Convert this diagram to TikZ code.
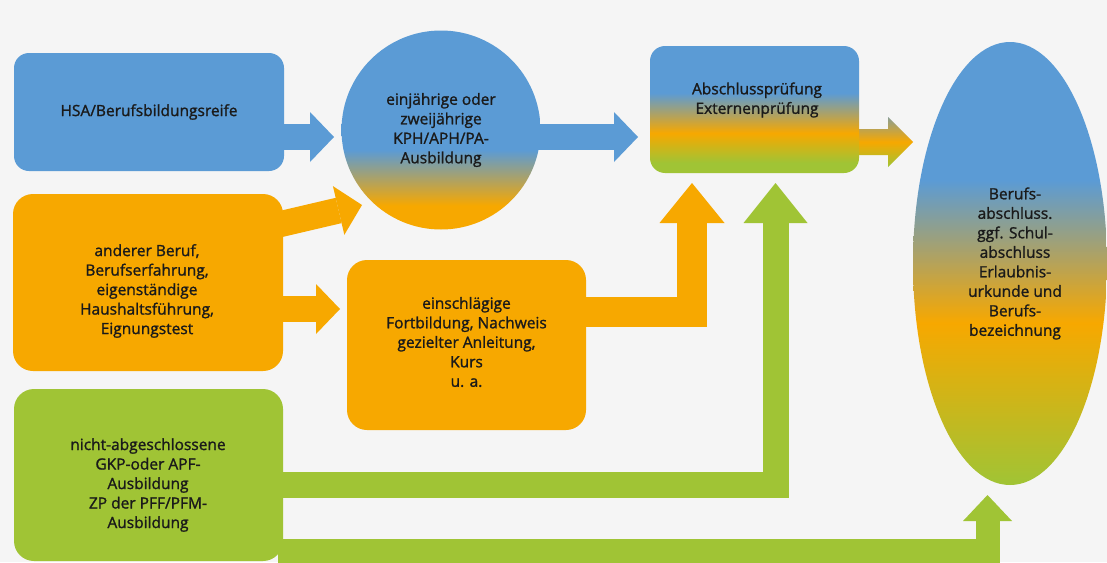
\documentclass[tikz,border=0pt]{standalone}
\usepackage{fontspec}
\setmainfont{Open Sans}[FakeBold=1.3,BoldFont={Open Sans}]
\usetikzlibrary{arrows.meta,shapes.geometric,calc}
\definecolor{bgc}{HTML}{F5F5F5}
\definecolor{cblue}{HTML}{5B9BD5}
\definecolor{corange}{HTML}{F7A800}
\definecolor{cgreen}{HTML}{A0C435}
\definecolor{ctext}{HTML}{1A1A1A}
\pgfdeclareverticalshading{circgrad}{100bp}{color(0bp)=(corange); color(31bp)=(corange); color(45bp)=(cblue); color(100bp)=(cblue)}
\pgfdeclareverticalshading{abgrad}{100bp}{color(0bp)=(cgreen); color(29bp)=(cgreen); color(40.7bp)=(corange); color(56.5bp)=(cblue); color(100bp)=(cblue)}
\pgfdeclareverticalshading{ellgrad}{100bp}{color(0bp)=(cgreen); color(25bp)=(cgreen); color(43.3bp)=(corange); color(59.4bp)=(cblue); color(100bp)=(cblue)}
\pgfdeclareverticalshading{arrgrad}{100bp}{color(0bp)=(cgreen); color(25bp)=(cgreen); color(50bp)=(corange); color(75bp)=(cblue!70!corange); color(100bp)=(cblue!70!corange)}
\pgfdeclarelayer{back}
\pgfdeclarelayer{bottom}
\pgfsetlayers{bottom,back,main}
\begin{document}
\begin{tikzpicture}[x=1pt,y=-1pt,
  box/.style={rectangle, inner sep=0pt, align=center, text=ctext, font=\fontsize{15.5}{19.5}\selectfont\bfseries},
  txt/.style={inner sep=0pt, align=center, text=ctext, font=\fontsize{15.5}{19.5}\selectfont\bfseries},
  barrow/.style={line width=26pt, -{Triangle[length=24pt,width=50pt,line width=0pt]}},
]
\begin{pgfonlayer}{bottom}
\fill[bgc] (0,0) rectangle (1107,562);
\end{pgfonlayer}
\useasboundingbox (0,0) rectangle (1107,562);

% nodes
\node[box, fill=cblue, minimum width=270pt, minimum height=118pt, rounded corners=15pt] (hsa) at (149,112) {HSA/Berufsbildungsreife};
\node[box, circle, minimum size=199pt, shade, shading=circgrad] (circ) at (441,130) {einjährige oder\\zweijährige\\KPH/APH/PA-\\Ausbildung};
\node[box, shade, shading=abgrad, minimum width=209pt, minimum height=127pt, rounded corners=15pt] (ab) at (754.5,109.5) {};
\node[txt] (abt) at (757,100) {Abschlussprüfung\\Externenprüfung};
\node[box, ellipse, minimum width=194pt, minimum height=443pt, shade, shading=ellgrad] (ell) at (1010,263.5) {};
\node[txt] (ellt) at (1015,263.5) {Berufs-\\abschluss.\\ggf. Schul-\\abschluss\\Erlaubnis-\\urkunde und\\Berufs-\\bezeichnung};
\node[box, fill=corange, minimum width=270pt, minimum height=177pt, rounded corners=20pt] (oth) at (148,282.5) {};
\node[txt] (otht) at (147,291) {anderer Beruf,\\Berufserfahrung,\\eigenständige\\Haushaltsführung,\\Eignungstest};
\node[box, fill=corange, minimum width=239pt, minimum height=170pt, rounded corners=20pt] (fort) at (466.5,345) {};
\node[txt] (fortt) at (466.5,342) {einschlägige\\Fortbildung, Nachweis\\gezielter Anleitung,\\Kurs\\u. a.};
\node[box, fill=cgreen, minimum width=269pt, minimum height=172pt, rounded corners=20pt] (nicht) at (148.5,475) {};
\node[txt] (nichtt) at (148,485) {nicht-abgeschlossene\\GKP-oder APF-\\Ausbildung\\ZP der PFF/PFM-\\Ausbildung};

% tip coordinates
\coordinate (t1) at (334,137);
\coordinate (t2) at (362,205);
\coordinate (t3) at (340,309);
\coordinate (t4) at (638,137);
\coordinate (t5) at (692,183);
\coordinate (t6) at (775.5,183);
\coordinate (t7) at (987.5,495);

\begin{pgfonlayer}{back}
\draw[barrow, cblue] ([yshift=-25pt]hsa.east) -- (t1);
\draw[barrow, corange] ($(oth.east)+(-13,-56)$) -- (t2);
\draw[barrow, corange] ([yshift=-26.5pt]oth.east) -- (t3);
\draw[barrow, cblue] ($(circ.east)+(-10,7)$) -- (t4);
\draw[corange, line width=30pt, -{Triangle[length=40pt,width=65pt,line width=0pt]}] ($(fort.east)+(-5,-33)$) -| (t5);
\draw[cgreen, line width=26pt, -{Triangle[length=40pt,width=64pt,line width=0pt]}] ($(nicht.east)+(-5,10)$) -| (t6);
\draw[cgreen, line width=24pt, -{Triangle[length=26pt,width=49pt,line width=0pt]}] ($(nicht.east)+(-5,76)$) -| (t7);
\shade[shading=arrgrad] ($(ab.east)+(-5,19.5)$) -- ++(34,0) -- ++(0,-12) -- ++(25,25) -- ++(-25,25) -- ++(0,-12) -- ++(-34,0) -- cycle;
\end{pgfonlayer}
\end{tikzpicture}
\end{document}
